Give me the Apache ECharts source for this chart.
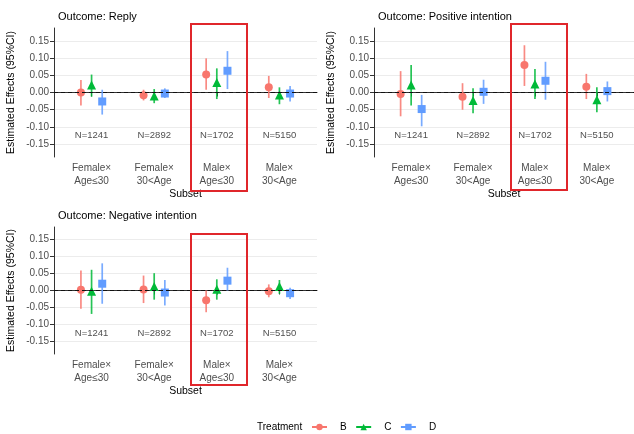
<!DOCTYPE html>
<html>
<head>
<meta charset="utf-8">
<script src="https://cdn.jsdelivr.net/npm/echarts@6/dist/echarts.min.js"></script>
<style>html,body{margin:0;padding:0;background:#fff}#c{width:634px;height:434px}</style>
</head>
<body>
<div id="c"></div>
<script>
// ---- data ----
const categories = ['Female×\nAge≤30', 'Female×\n30<Age', 'Male×\nAge≤30', 'Male×\n30<Age'];
const sampleSizes = [1241, 2892, 1702, 5150];
const treatments = ['B', 'C', 'D'];
const outcomes = ['Outcome: Reply', 'Outcome: Positive intention', 'Outcome: Negative intention'];
const yTicks = [-0.15, -0.10, -0.05, 0.00, 0.05, 0.10, 0.15];
// [estimate, lower, upper] per subset
const replyB = [[0.000, -0.038, 0.036], [-0.008, -0.023, 0.008], [0.052, 0.008, 0.099], [0.015, -0.016, 0.048]];
const replyC = [[0.022, -0.012, 0.052], [-0.010, -0.031, 0.010], [0.029, -0.019, 0.070], [-0.007, -0.034, 0.015]];
const replyD = [[-0.026, -0.064, 0.008], [-0.003, -0.016, 0.012], [0.063, 0.010, 0.120], [-0.003, -0.026, 0.019]];
const posB = [[-0.004, -0.069, 0.062], [-0.012, -0.050, 0.027], [0.080, 0.019, 0.137], [0.017, -0.019, 0.054]];
const posC = [[0.022, -0.038, 0.080], [-0.023, -0.060, 0.012], [0.025, -0.019, 0.068], [-0.021, -0.057, 0.015]];
const posD = [[-0.048, -0.098, -0.007], [0.002, -0.033, 0.037], [0.034, -0.021, 0.089], [0.004, -0.026, 0.032]];
const negB = [[0.002, -0.054, 0.059], [0.003, -0.037, 0.044], [-0.029, -0.064, 0.000], [-0.002, -0.020, 0.018]];
const negC = [[-0.002, -0.069, 0.061], [0.012, -0.027, 0.051], [0.004, -0.027, 0.033], [0.012, -0.010, 0.031]];
const negD = [[0.020, -0.039, 0.080], [-0.006, -0.044, 0.031], [0.029, 0.000, 0.067], [-0.008, -0.025, 0.008]];
const nLabelY = -0.125;

const panelData = [[replyB, replyC, replyD], [posB, posC, posD], [negB, negC, negD]];
const colors = ['#F8766D', '#00BA38', '#619CFF'];
const symbols = ['circle', 'triangle', 'rect'];
const symbolSizes = [8, 9, 8];
const dodge = [-0.17, 0, 0.17];

const grids = [
  {left: 54, top: 28, width: 263, height: 129},
  {left: 374, top: 28, width: 263, height: 129},
  {left: 54, top: 227, width: 263, height: 127}
];
const font = 'Liberation Sans, Arial, sans-serif';

const xAxes = grids.map((g, i) => ({
  type: 'value', gridIndex: i, min: 0.4, max: 4.6,
  name: 'Subset', nameLocation: 'middle', nameGap: 30,
  nameTextStyle: {color: '#000', fontSize: 10.5, fontFamily: font},
  axisLine: {show: true, lineStyle: {color: '#333', width: 1}},
  axisTick: {show: true, length: 4, customValues: [1, 2, 3, 4], lineStyle: {color: '#333'}},
  axisLabel: {customValues: [1, 2, 3, 4], formatter: v => categories[Math.round(v) - 1] || '',
    color: '#4d4d4d', fontSize: 10, fontFamily: font, lineHeight: 13, margin: 5},
  splitLine: {show: false}
}));
const yAxes = grids.map((g, i) => ({
  type: 'value', gridIndex: i, min: -0.187, max: 0.187,
  name: 'Estimated Effects (95%CI)', nameLocation: 'middle', nameGap: 37,
  nameTextStyle: {color: '#000', fontSize: 10.5, fontFamily: font},
  axisLine: {show: true, lineStyle: {color: '#333', width: 1}},
  axisTick: {show: true, length: 4, customValues: yTicks, lineStyle: {color: '#333'}},
  axisLabel: {customValues: yTicks, formatter: v => v.toFixed(2), color: '#4d4d4d', fontSize: 10, fontFamily: font, margin: 5},
  splitLine: {show: true, lineStyle: {color: '#ececec', width: 1}}
}));

const series = [];
// legend dummies
treatments.forEach((t, k) => {
  series.push({type: 'line', name: t, xAxisIndex: 0, yAxisIndex: 0, data: [],
    symbol: symbols[k], symbolSize: 7, itemStyle: {color: colors[k]}, lineStyle: {color: colors[k], width: 1.5}});
});
panelData.forEach((pd, p) => {
  // zero line + N labels
  series.push({
    type: 'scatter', xAxisIndex: p, yAxisIndex: p, symbolSize: 0, silent: true,
    data: sampleSizes.map((n, i) => [i + 1, nLabelY, n]),
    label: {show: true, position: 'inside', formatter: d => 'N=' + d.data[2], color: '#222', fontSize: 9.5, fontFamily: font},
    markLine: {silent: true, symbol: 'none', label: {show: false},
      lineStyle: {color: '#111', type: [4, 3], width: 1.1}, data: [{yAxis: 0}]}
  });
  pd.forEach((arr, k) => {
    series.push({
      type: 'custom', name: treatments[k], xAxisIndex: p, yAxisIndex: p,
      data: arr.map((d, i) => [i + 1 + dodge[k], d[1], d[2]]),
      renderItem: (params, api) => {
        const a = api.coord([api.value(0), api.value(1)]);
        const b = api.coord([api.value(0), api.value(2)]);
        return {type: 'line', shape: {x1: a[0], y1: a[1], x2: b[0], y2: b[1]},
          style: {stroke: colors[k], lineWidth: 1.7, opacity: 0.85}};
      }
    });
    series.push({
      type: 'scatter', name: treatments[k], xAxisIndex: p, yAxisIndex: p,
      symbol: symbols[k], symbolSize: symbolSizes[k],
      itemStyle: {color: colors[k], opacity: 1},
      data: arr.map((d, i) => [i + 1 + dodge[k], d[0]])
    });
  });
});

const chart = echarts.init(document.getElementById('c'), null, {renderer: 'canvas'});
chart.setOption({
  animation: false,
  backgroundColor: '#fff',
  grid: grids,
  xAxis: xAxes,
  yAxis: yAxes,
  title: [
    {text: outcomes[0], left: 53, top: 6},
    {text: outcomes[1], left: 373, top: 6},
    {text: outcomes[2], left: 53, top: 205}
  ].map(t => Object.assign(t, {textStyle: {color: '#000', fontSize: 11, fontWeight: 'normal', fontFamily: font}})),
  legend: {
    data: treatments, left: 306, top: 417, itemWidth: 15, itemHeight: 8, itemGap: 8.5,
    textStyle: {color: '#000', fontSize: 10, fontFamily: font, padding: [0, 0, 0, 8]}
  },
  graphic: [
    {type: 'text', left: 257, top: 422, style: {text: 'Treatment', fill: '#000', fontSize: 10, fontFamily: font}},
    {type: 'rect', shape: {x: 191, y: 24, width: 56, height: 167}, style: {fill: 'none', stroke: '#e0262b', lineWidth: 2}, z: 100},
    {type: 'rect', shape: {x: 511, y: 24, width: 56, height: 166}, style: {fill: 'none', stroke: '#e0262b', lineWidth: 2}, z: 100},
    {type: 'rect', shape: {x: 191, y: 234, width: 56, height: 151}, style: {fill: 'none', stroke: '#e0262b', lineWidth: 2}, z: 100}
  ],
  series: series
});
</script>
</body>
</html>
